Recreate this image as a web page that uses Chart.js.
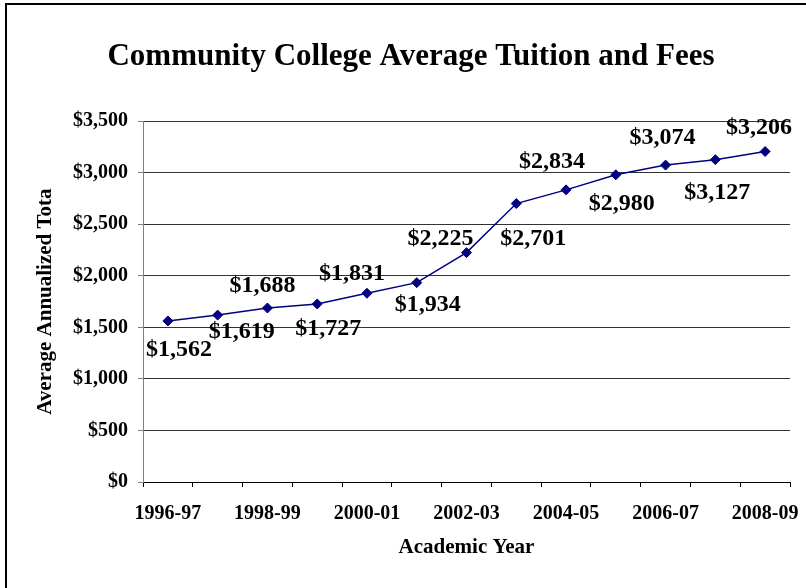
<!DOCTYPE html>
<html>
<head>
<meta charset="utf-8">
<script src="https://cdn.jsdelivr.net/npm/chart.js@4"></script>
<style>
  html, body { margin: 0; padding: 0; background: #fff; }
  #wrap { width: 806px; height: 588px; position: relative; }
</style>
</head>
<body>
<div id="wrap"><canvas id="tuition"></canvas></div>
<script>
// academic years and average annualized tuition + fees
const years = ['1996-97', '1997-98', '1998-99', '1999-00', '2000-01', '2001-02', '2002-03',
               '2003-04', '2004-05', '2005-06', '2006-07', '2007-08', '2008-09'];
const tuition = [1562, 1619, 1688, 1727, 1831, 1934, 2225, 2701, 2834, 2980, 3074, 3127, 3206];

// where each value label sits relative to its point (px)
const labelDx = [11, 24, -5, 11, -15, 11, -26, 17, -14, 6, -3, 2, -6];
const labelDy = [29, 17, -22, 25, -19, 22, -14, 35, -28, 29, -27, 33, -24];

const serif = "'Liberation Serif', 'Times New Roman', serif";
const navy = '#000080';

const money = v => '$' + v.toLocaleString('en-US');

// white page with the frame line on the left and top
const frame = {
  id: 'frame',
  beforeDraw(chart) {
    const ctx = chart.ctx;
    ctx.save();
    ctx.fillStyle = '#fff';
    ctx.fillRect(0, 0, chart.width, chart.height);
    ctx.strokeStyle = '#000';
    ctx.lineWidth = 2;
    ctx.strokeRect(6, 4, 900, 900);
    ctx.restore();
  }
};

const valueLabels = {
  id: 'valueLabels',
  afterDatasetsDraw(chart) {
    const ctx = chart.ctx;
    const pts = chart.getDatasetMeta(0).data;
    ctx.save();
    ctx.font = 'bold 24px ' + serif;
    ctx.fillStyle = '#000';
    ctx.textAlign = 'center';
    ctx.textBaseline = 'middle';
    pts.forEach((pt, i) => {
      ctx.fillText(money(tuition[i]), pt.x + labelDx[i], pt.y + labelDy[i]);
    });
    ctx.restore();
  }
};

new Chart(document.getElementById('tuition'), {
  type: 'line',
  data: {
    labels: years,
    datasets: [{
      data: tuition,
      borderColor: navy,
      backgroundColor: navy,
      borderWidth: 1.5,
      pointStyle: 'rectRot',
      pointRadius: 5,
      pointBorderWidth: 1,
      pointBorderColor: navy,
      pointBackgroundColor: navy,
      tension: 0,
      fill: false
    }]
  },
  options: {
    responsive: true,
    maintainAspectRatio: false,
    animation: false,
    layout: { padding: { left: 32, right: 16, top: 0, bottom: 0 } },
    plugins: {
      legend: { display: false },
      tooltip: { enabled: false },
      title: {
        display: true,
        text: 'Community College Average Tuition and Fees',
        color: '#000',
        font: { family: serif, size: 31, weight: 'bold', lineHeight: 1.2 },
        padding: { top: 38, bottom: 46 }
      }
    },
    scales: {
      x: {
        offset: true,
        grid: {
          offset: true,
          drawOnChartArea: false,
          drawTicks: true,
          tickLength: 5,
          color: '#000'
        },
        border: { color: '#000', width: 1 },
        ticks: {
          autoSkip: false,
          maxRotation: 0,
          padding: 15,
          color: '#000',
          font: { family: serif, size: 20, weight: 'bold' },
          callback: (v, i) => (i % 2 === 0 ? years[i] : '')
        },
        title: {
          display: true,
          text: 'Academic Year',
          color: '#000',
          font: { family: serif, size: 21, weight: 'bold', lineHeight: 1.2 },
          padding: { top: 0, bottom: 28 }
        },
        afterFit(s) {
          s.height = 106;
          s.paddingLeft = 0;
          s.paddingRight = 0;
        }
      },
      y: {
        min: 0,
        max: 3500,
        grid: {
          color: '#333',
          tickColor: '#808080',
          tickLength: 5,
          lineWidth: 1
        },
        border: { color: '#808080', width: 1 },
        ticks: {
          stepSize: 500,
          padding: 10,
          color: '#000',
          font: { family: serif, size: 20, weight: 'bold' },
          callback: v => money(v)
        },
        title: {
          display: true,
          text: 'Average Annualized Tota',
          color: '#000',
          font: { family: serif, size: 21, weight: 'bold', lineHeight: 1.2 },
          padding: { top: 1, bottom: 0 }
        },
        afterFit(s) {
          s.width = 111;
          s.paddingTop = 0;
          s.paddingBottom = 0;
        }
      }
    }
  },
  plugins: [frame, valueLabels]
});
</script>
</body>
</html>
